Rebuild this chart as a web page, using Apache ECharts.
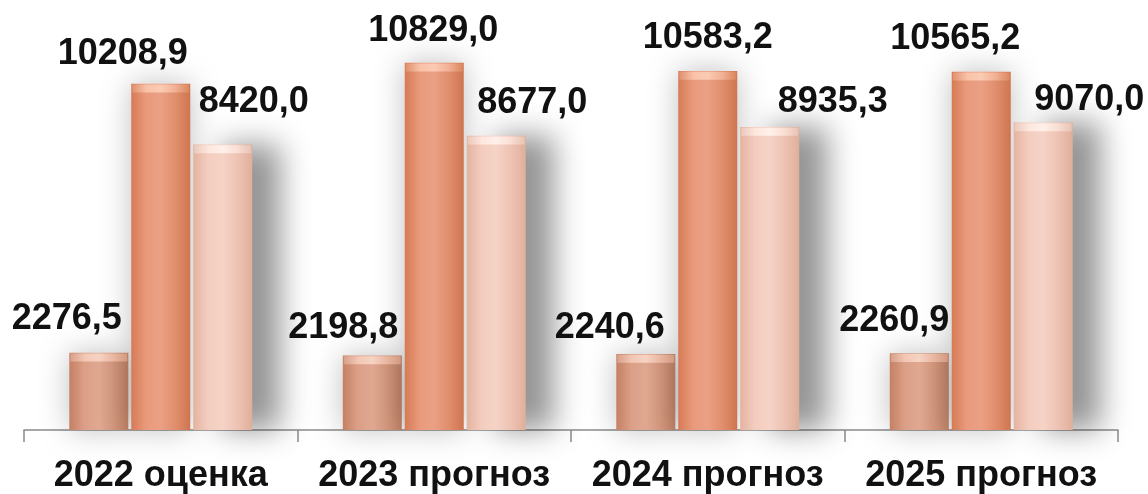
<!DOCTYPE html>
<html>
<head>
<meta charset="utf-8">
<script src="https://cdn.jsdelivr.net/npm/echarts@6/dist/echarts.min.js"></script>
<style>
html,body{margin:0;padding:0;background:#fff;}
#chart{width:1148px;height:494px;}
</style>
</head>
<body>
<div id="chart"></div>
<script>
// ---- data ----
var categories = ['2022 оценка', '2023 прогноз', '2024 прогноз', '2025 прогноз'];
var series1 = [2276.5, 2198.8, 2240.6, 2260.9];
var series2 = [10208.9, 10829.0, 10583.2, 10565.2];
var series3 = [8420.0, 8677.0, 8935.3, 9070.0];

// label placement tweaks (pixels, relative to default 'top' position)
var offsets1 = [[-32, -11], [-29, -4], [-36, -3], [-25, -9]];
var offsets2 = [[-38, -7], [-1, -9], [0, -10], [-26, -10]];
var offsets3 = [[31, -19], [36, -10], [63, -2], [46, 1]];

var FONT = '"Liberation Sans", Arial, sans-serif';
var BW = 59;

function hGrad(stops) {
  return new echarts.graphic.LinearGradient(0, 0, 1, 0, stops.map(function (c, i) {
    return { offset: i / (stops.length - 1), color: c };
  }));
}
var colors = [
  hGrad(['#c48063', '#dc9f87', '#e0a891', '#d3977d', '#c08367']),
  hGrad(['#d67a55', '#e99a7c', '#eba084', '#e08e6d', '#cf7550']),
  hGrad(['#e4b3a0', '#f3cdbf', '#f5d3c6', '#eec3b4', '#dfaf9b'])
];
var capColors = [
  hGrad(['#d8a08a', '#f2c7b4', '#f6d3c3', '#e9b7a2', '#d39a80']),
  hGrad(['#e0916f', '#f8c2a8', '#fbcbb3', '#f2b196', '#d9885f']),
  hGrad(['#ecc9bc', '#fde7de', '#fff0ea', '#f9dfd4', '#e8c3b4'])
];

function fmt(v) { return v.toFixed(1).replace('.', ','); }

function makeData(vals, offs) {
  return vals.map(function (v, i) {
    return { value: v, label: { offset: offs[i] } };
  });
}

var labelBase = {
  show: true,
  position: 'top',
  distance: 5,
  fontFamily: FONT,
  fontWeight: 'bold',
  fontSize: 36,
  color: '#111',
  formatter: function (p) { return fmt(p.value); }
};

function barSeries(idx, vals, offs) {
  return {
    type: 'bar',
    name: 's' + idx,
    data: makeData(vals, offs),
    barWidth: BW,
    barGap: '5%',
    itemStyle: {
      color: colors[idx],
      shadowColor: idx === 2 ? 'rgba(0,0,0,0.42)' : 'rgba(0,0,0,0.25)',
      shadowBlur: 30,
      shadowOffsetX: idx === 2 ? 28 : 0,
      shadowOffsetY: 0
    },
    label: labelBase,
    z: 2
  };
}
function capSeries(idx, vals) {
  return {
    type: 'pictorialBar',
    data: vals,
    barWidth: BW,
    barGap: '5%',
    symbol: 'rect',
    symbolSize: [BW - 2, 8],
    symbolPosition: 'end',
    symbolOffset: [0, '10%'],
    itemStyle: { color: capColors[idx] },
    silent: true,
    z: 3
  };
}

var chart = echarts.init(document.getElementById('chart'));
chart.setOption({
  animation: false,
  backgroundColor: '#ffffff',
  grid: { left: 24, right: 30, top: 23, bottom: 63, containLabel: false },
  xAxis: {
    type: 'category',
    data: categories,
    axisLine: { lineStyle: { color: '#8a8a8a', width: 1.5 } },
    axisTick: { show: true, interval: 0, length: 12, lineStyle: { color: '#8a8a8a', width: 1.5 } },
    axisLabel: {
      interval: 0,
      margin: 28,
      fontFamily: FONT,
      fontWeight: 'bold',
      fontSize: 36,
      color: '#111'
    }
  },
  yAxis: {
    type: 'value',
    min: 0,
    max: 12000,
    show: false,
    splitLine: { show: false }
  },
  series: [
    barSeries(0, series1, offsets1),
    barSeries(1, series2, offsets2),
    barSeries(2, series3, offsets3),
    capSeries(0, series1),
    capSeries(1, series2),
    capSeries(2, series3)
  ]
});
</script>
</body>
</html>
